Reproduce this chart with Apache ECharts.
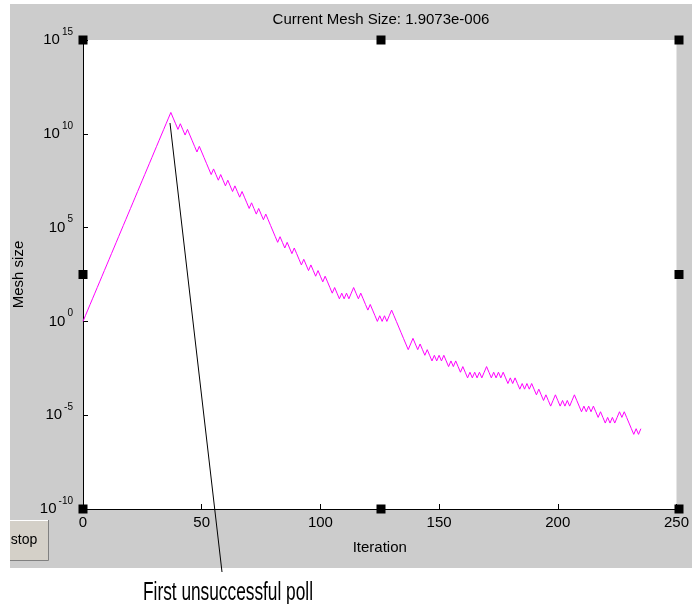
<!DOCTYPE html>
<html><head><meta charset="utf-8">
<script src="https://cdn.jsdelivr.net/npm/echarts@6/dist/echarts.min.js"></script>
<style>html,body{margin:0;padding:0;background:#fff;}#c{width:692px;height:604px;}</style>
</head><body><div id="c"></div>
<script>
// ---- data ----
const titleText = 'Current Mesh Size: 1.9073e-006';
const xName = 'Iteration';
const yName = 'Mesh size';
const annotationText = 'First unsuccessful poll';
const buttonText = 'stop';
const xTicks = [0, 50, 100, 150, 200, 250];
const yTickExponents = [-10, -5, 0, 5, 10, 15];
// mesh size exponent (base 2) per iteration 0..235
const meshExp2 = [
  0,1,2,3,4,5,6,7,8,9,10,11,12,13,14,15,16,17,18,19,20,21,22,23,24,25,26,27,28,29,30,31,32,33,34,35,36,37,
  36,35,34,35,34,33,34,33,32,31,30,
  31,30,29,28,27,
  26,27,26,25,26,25,24,
  25,24,23,24,23,
  22,23,22,21,20,
  21,20,19,20,19,18,
  19,18,17,16,15,14,
  15,14,13,14,13,12,13,12,11,10,
  11,10,9,10,9,8,
  9,8,7,8,7,6,5,
  6,5,4,
  5,4,5,4,5,6,5,
  4,5,4,3,2,
  3,2,1,0,
  1,0,1,0,1,
  2,1,0,-1,-2,-3,-4,-5,
  -4,-3,
  -4,-5,-4,-5,-6,-5,-6,-7,
  -6,-7,-6,
  -7,-6,-7,-8,-7,-8,-7,-8,
  -9,-8,-9,-10,
  -9,-10,-9,-10,-9,-10,-9,-8,
  -9,-10,-9,-10,-9,-10,-9,
  -10,-11,
  -10,-11,-10,-11,-12,-11,-12,-11,-12,-11,
  -12,-13,-12,-13,-14,-13,-14,-15,
  -14,-13,
  -14,-15,-14,-15,-14,-15,-14,-13,-14,
  -15,-16,
  -15,-16,-15,-16,-15,-16,
  -17,-16,-17,-18,-17,-18,
  -17,-18,-17,-16,-17,-16,
  -17,-18,-19,-20,
  -19,-20,-19
];

// ---- layout ----
const G = {left: 83, top: 40, right: 679, bottom: 509};
const FONT = '"Liberation Sans", Arial, sans-serif';
const data = meshExp2.map((e, i) => [i, Math.pow(2, e)]);

const chart = echarts.init(document.getElementById('c'), null, {renderer: 'canvas'});

function measure(text, font) {
  const c = document.createElement('canvas').getContext('2d');
  c.font = font; return c.measureText(text).width;
}
const annFont = '26px "Liberation Sans Narrow", "Liberation Sans", sans-serif';
const annW = measure(annotationText, annFont);
const annScale = 170 / annW;

const handles = [];
const hx = [G.left, (G.left + G.right) / 2, G.right];
const hy = [G.top, (G.top + G.bottom) / 2, G.bottom];
hx.forEach((x, i) => hy.forEach((y, j) => {
  if (i === 1 && j === 1) return;
  handles.push({type: 'rect', z: 100, shape: {x: x - 4.5, y: y - 4.5, width: 9, height: 9}, style: {fill: '#000'}});
}));

chart.setOption({
  backgroundColor: '#fff',
  animation: false,
  grid: {left: G.left, top: G.top, width: G.right - G.left, height: G.bottom - G.top,
         show: true, backgroundColor: '#fff', borderWidth: 0},
  xAxis: {
    type: 'value', min: 0, max: 250, interval: 50,
    axisLine: {show: true, lineStyle: {color: '#000', width: 1}},
    axisTick: {show: true, inside: true, length: 5, lineStyle: {color: '#000'}},
    splitLine: {show: false},
    axisLabel: {color: '#000', fontSize: 15, fontFamily: FONT, margin: 6,
      formatter: v => xTicks.includes(v) ? String(v) : ''},
    name: xName, nameLocation: 'middle', nameGap: 31,
    nameTextStyle: {color: '#000', fontSize: 15, fontFamily: FONT}
  },
  yAxis: {
    type: 'log', logBase: 10, min: 1e-10, max: 1e15, interval: 5,
    axisLine: {show: true, lineStyle: {color: '#000', width: 1}},
    axisTick: {show: true, inside: true, length: 5, lineStyle: {color: '#000'}},
    minorTick: {show: false},
    splitLine: {show: false},
    axisLabel: {
      margin: 10,
      formatter: v => {
        const e = Math.round(Math.log10(v));
        return yTickExponents.includes(e) ? '{b|10}{s|' + e + '}' : '';
      },
      rich: {
        b: {fontSize: 15, fontFamily: FONT, color: '#000', lineHeight: 26, verticalAlign: 'middle'},
        s: {fontSize: 10, fontFamily: FONT, color: '#000', lineHeight: 10, verticalAlign: 'top', padding: [0, 0, 0, 2]}
      }
    },
    name: yName, nameLocation: 'middle', nameGap: 57,
    nameTextStyle: {color: '#000', fontSize: 15, fontFamily: FONT}
  },
  series: [{
    type: 'line', data: data, showSymbol: false, symbol: 'none',
    lineStyle: {color: '#ff00ff', width: 1}, z: 5
  }],
  graphic: [
    {type: 'rect', z: -100, silent: true, shape: {x: 10, y: 4, width: 682, height: 564}, style: {fill: '#cccccc'}},
    {type: 'text', z: 10, x: (G.left + G.right) / 2, y: 20,
     style: {text: titleText, fill: '#000', font: '15px ' + FONT, align: 'center', verticalAlign: 'middle'}},
    // stop button
    {type: 'rect', z: 10, shape: {x: 10, y: 520, width: 39, height: 41}, style: {fill: '#d4d0c8', stroke: null}},
    {type: 'polyline', z: 11, shape: {points: [[10, 560.5], [48.5, 560.5], [48.5, 520]]}, style: {stroke: '#808080', lineWidth: 1, fill: null}},
    {type: 'polyline', z: 11, shape: {points: [[10, 520.5], [48, 520.5]]}, style: {stroke: '#ffffff', lineWidth: 1, fill: null}},
    {type: 'text', z: 12, x: 24, y: 540,
     style: {text: buttonText, fill: '#000', font: '14px ' + FONT, align: 'center', verticalAlign: 'middle'}},
    // annotation
    {type: 'line', z: 50, shape: {x1: 170, y1: 123, x2: 222, y2: 572}, style: {stroke: '#000', lineWidth: 1}},
    {type: 'text', z: 50, x: 143, y: 593, scaleX: annScale, originX: 0, originY: 0,
     style: {text: annotationText, fill: '#000', font: annFont, align: 'left', verticalAlign: 'middle'}}
  ].concat(handles)
});
</script>
</body></html>
